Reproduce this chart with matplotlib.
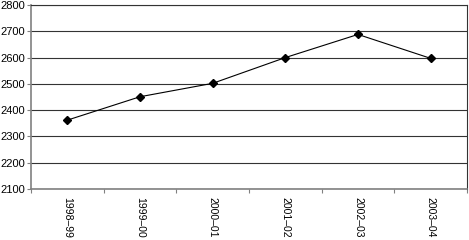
import matplotlib
matplotlib.use("Agg")
import matplotlib.pyplot as plt
from matplotlib.ticker import FixedLocator, NullFormatter

years = ["1998\u201399", "1999\u201300", "2000\u201301", "2001\u201302", "2002\u201303", "2003\u201304"]
values = [2362, 2451, 2502, 2600, 2688, 2597]
y_ticks = [2100, 2200, 2300, 2400, 2500, 2600, 2700, 2800]

plt.rcParams['font.family'] = ['Liberation Sans', 'DejaVu Sans']

fig = plt.figure(figsize=(4.69, 2.40), dpi=100)
ax = fig.add_axes([31 / 469, 1 - 189 / 240, 436 / 469, 184 / 240])

x = list(range(len(years)))
ax.plot(x, values, color='black', linewidth=0.8, marker='D', markersize=4.5,
        markerfacecolor='black', markeredgecolor='black')

ax.set_xlim(-0.5, len(years) - 0.5)
ax.set_ylim(y_ticks[0], y_ticks[-1])
ax.set_yticks(y_ticks)
ax.set_yticklabels([str(v) for v in y_ticks], fontsize=8)

# category labels centred, tick marks on category boundaries
ax.set_xticks(x)
ax.set_xticklabels(years, rotation=-90, fontsize=7.5, va='top', ha='center')
ax.tick_params(axis='x', which='major', length=0, pad=6)
ax.xaxis.set_minor_locator(FixedLocator([i - 0.5 for i in range(len(years) + 1)]))
ax.xaxis.set_minor_formatter(NullFormatter())
ax.tick_params(axis='x', which='minor', length=3, width=0.8, color='#808080', direction='out')
ax.tick_params(axis='y', length=3, width=0.8, color='#808080', direction='out', pad=1.5)

ax.grid(axis='y', color='#333333', linewidth=0.8)
ax.set_axisbelow(True)

ax.spines['left'].set_color('#808080')
ax.spines['bottom'].set_color('#808080')
ax.spines['left'].set_linewidth(1.2)
ax.spines['bottom'].set_linewidth(1.2)
ax.spines['top'].set_color('#333333')
ax.spines['right'].set_color('#333333')
ax.spines['top'].set_linewidth(0.8)
ax.spines['right'].set_linewidth(0.8)

fig.savefig('out.png', dpi=100)
